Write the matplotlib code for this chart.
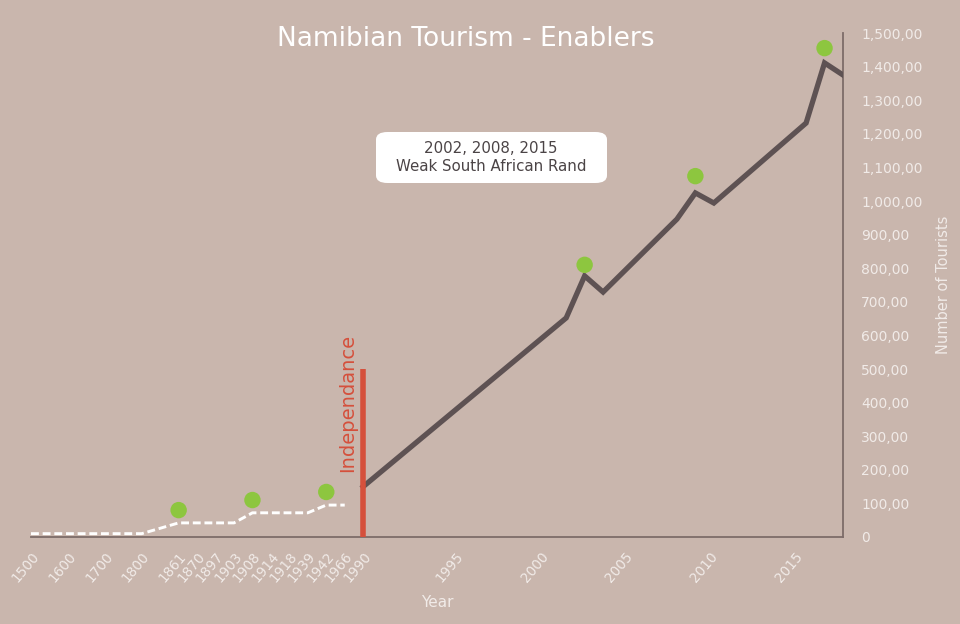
import matplotlib
matplotlib.use("Agg")
import matplotlib.pyplot as plt
from matplotlib.patches import FancyBboxPatch
from matplotlib.ticker import FuncFormatter

# colours
BG = "#c9b6ad"
LINE = "#5e5253"
GREEN = "#8dc63f"
RED = "#d5503c"
LIGHT = "#f1ebe8"
SPINE = "#7d6c69"

# category slots on the x axis (one slot per label, gaps between the centuries)
early_labels = ["1500", "1600", "1700", "1800", "1861", "1870", "1897", "1903",
                "1908", "1914", "1918", "1939", "1942", "1966", "1990"]
early_slots = [0, 2, 4, 6, 8, 9, 10, 11, 12, 13, 14, 15, 16, 17, 18]
late_labels = ["1995", "2000", "2005", "2010", "2015"]
# where the reference prints the late labels (they don't sit on their year slot)
late_label_slots = [23, 27.6, 32.2, 36.8, 41.4]

# early history, dashed white line
hist_years = [1500, 1800, 1861, 1903, 1908, 1939, 1942, 1966]
hist_values = [10, 10, 42, 42, 72, 72, 95, 95]

# tourist arrivals after independence (vertices of the line)
tour_years = [1990, 2001, 2002, 2003, 2007, 2008, 2009, 2014, 2015, 2016]
tour_values = [150, 652, 777, 729, 946, 1024, 994, 1232, 1411, 1375]

# green "enabler" markers
dot_years = [1861, 1908, 1942, 2002, 2008, 2015]
dot_values = [80, 110, 134, 810, 1074, 1455]

independence_year = 1990
independence_height = 500


def slot(year):
    lookup = dict(zip([int(s) for s in early_labels], early_slots))
    if year in lookup:
        return lookup[year]
    return 18 + (year - 1990)


fig = plt.figure(figsize=(9.6, 6.24), dpi=100, facecolor=BG)
ax = fig.add_axes([31 / 960, 1 - 537 / 624, (843 - 31) / 960, (537 - 33) / 624])
ax.set_facecolor(BG)

ax.plot([slot(y) for y in hist_years], hist_values, color="white", lw=2.1,
        ls=(0, (2.7, 1.3)), solid_capstyle="butt", zorder=2)
ax.plot([slot(y) for y in tour_years], tour_values, color=LINE, lw=3.8,
        solid_joinstyle="miter", zorder=3)
ax.scatter([slot(y) for y in dot_years], dot_values, s=140, color=GREEN,
           edgecolors="none", zorder=4)
ax.vlines(slot(independence_year), 0, independence_height, color=RED, lw=4, zorder=5)
ax.text(slot(independence_year) - 0.85, 193, "Independance", rotation=90,
        color=RED, fontsize=14, ha="center", va="bottom")

ax.set_xlim(0, 44)
ax.set_ylim(0, 1500)

for side in ["left", "top"]:
    ax.spines[side].set_visible(False)
for side in ["right", "bottom"]:
    ax.spines[side].set_color(SPINE)
    ax.spines[side].set_linewidth(1.3)

ax.yaxis.tick_right()
ax.yaxis.set_label_position("right")
ax.set_yticks(range(0, 1501, 100))
ax.yaxis.set_major_formatter(FuncFormatter(lambda v, p: "0" if v == 0 else f"{v:,.0f},00"))
ax.tick_params(axis="y", length=0, pad=13, labelsize=10, labelcolor=LIGHT)

ax.set_xticks(early_slots + late_label_slots)
ax.set_xticklabels(early_labels + late_labels, rotation=50, ha="right",
                   rotation_mode="anchor")
ax.tick_params(axis="x", length=0, pad=9, labelsize=9.8, labelcolor=LIGHT)

ax.set_xlabel("Year", color=LIGHT, fontsize=11, labelpad=7)
ax.set_ylabel("Number of Tourists", color=LIGHT, fontsize=10.5, labelpad=10)

# white rounded note box
box = FancyBboxPatch((376 / 960, 1 - 183 / 624), (607 - 376) / 960, (183 - 132) / 624,
                     boxstyle="round,pad=0,rounding_size=0.012", transform=fig.transFigure,
                     fc="white", ec="none", zorder=6)
fig.patches.append(box)
fig.text(491 / 960, 1 - 157.5 / 624, "2002, 2008, 2015\nWeak South African Rand",
         ha="center", va="center", fontsize=10.8, color="#4b4446", linespacing=1.3,
         zorder=7)

fig.text(466 / 960, 1 - 39 / 624, "Namibian Tourism - Enablers", ha="center",
         va="center", color="white", fontsize=19)

fig.savefig("out.png", dpi=100, facecolor=BG)
